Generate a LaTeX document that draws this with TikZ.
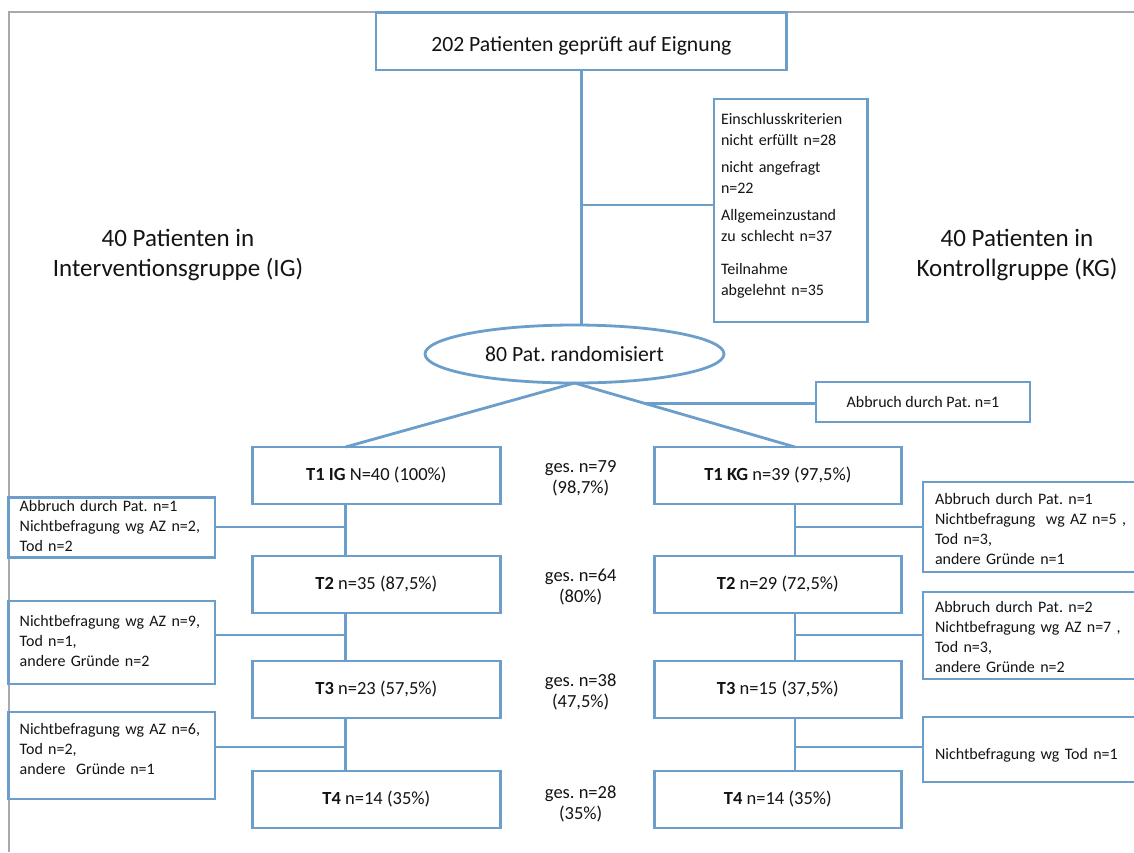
\documentclass[tikz,border=0pt]{standalone}
\usepackage{fontspec}
\setmainfont{Carlito}
\usetikzlibrary{shapes.geometric,calc}
\definecolor{boxblue}{RGB}{108,158,204}
\definecolor{framegray}{RGB}{168,168,176}
\definecolor{ink}{RGB}{20,20,20}
\newcommand\txtup[2]{\raisebox{#1}[\height][\depth]{#2}}
\frenchspacing
\tikzset{
  conn/.style={draw=boxblue, line width=2.8pt},
  bluebox/.style={draw=boxblue, line width=2.8pt, rectangle, inner sep=0pt, outer sep=0pt, text=ink},
  tbox/.style={bluebox, minimum width=247.5pt, minimum height=57pt, font=\fontsize{18.5}{22}\selectfont},
  sidebox/.style={bluebox, inner xsep=11pt, text width=184.3pt, align=left, font=\fontsize{16}{20}\selectfont},
  rightbox/.style={bluebox, inner xsep=12pt, text width=213pt, align=left, font=\fontsize{16}{20}\selectfont},
  gestext/.style={align=center, inner sep=0pt, text=ink, font=\fontsize{18.5}{21}\selectfont},
  grouplabel/.style={align=center, inner sep=0pt, text=ink, font=\fontsize{25}{30}\selectfont},
}
\begin{document}
\begin{tikzpicture}[x=1pt,y=-1pt]
\useasboundingbox (0,0) rectangle (1134,852);
\clip (0,0) rectangle (1134,852);
\fill[white] (0,0) rectangle (1134,852);
\draw[framegray, line width=2pt] (8.7,852) -- (8.7,11.7) -- (1134,11.7);

% columns and branch rows
\coordinate (igcol) at (345.5,0);
\coordinate (kgcol) at (795,0);
\coordinate (brA) at (0,527);
\coordinate (brB) at (0,635);
\coordinate (brC) at (0,747);
\coordinate (brX) at (0,205);

% top
\node[bluebox, minimum width=410.7pt, minimum height=57.3pt, font=\fontsize{21.7}{26}\selectfont]
  (top) at (581.35,41.35) {\txtup{-5pt}{202 Patienten geprüft auf Eignung}};

\node[bluebox, inner xsep=7pt, text width=139.6pt, minimum height=223pt, align=left, font=\fontsize{16}{21.5}\selectfont]
  (excl) at (790.8,210.5) {\txtup{5pt}{\begin{tabular}{@{}l@{}}Einschlusskriterien\\ nicht erfüllt n=28\\[5pt] nicht angefragt\\ n=22\\[5pt] Allgemeinzustand\\ zu schlecht n=37\\[11pt] Teilnahme\\ abgelehnt n=35\end{tabular}}};

\node[grouplabel] (iglab) at (178,255) {40 Patienten in\\Interventionsgruppe (IG)};
\node[grouplabel] (kglab) at (1017,255) {40 Patienten in\\Kontrollgruppe (KG)};

\node[ellipse, draw=boxblue, line width=2.8pt, inner sep=0pt, outer sep=0pt, minimum width=299pt, minimum height=58pt, text=ink, font=\fontsize{21.7}{26}\selectfont]
  (rand) at (574.5,354) {80 Pat. randomisiert};

\node[bluebox, minimum width=214pt, minimum height=40pt, font=\fontsize{16}{20}\selectfont]
  (abb) at (923,402) {Abbruch durch Pat. n=1};

% T boxes
\node[tbox] (t1ig) at (376.35,475.5) {\textbf{T1 IG} N=40 (100\%)};
\node[tbox] (t2ig) at (376.35,584.5) {\textbf{T2} n=35 (87,5\%)};
\node[tbox] (t3ig) at (376.35,689.5) {\textbf{T3} n=23 (57,5\%)};
\node[tbox] (t4ig) at (376.35,799.5) {\textbf{T4} n=14 (35\%)};
\node[tbox] (t1kg) at (777.85,475.5) {\textbf{T1 KG} n=39 (97,5\%)};
\node[tbox] (t2kg) at (777.85,584.5) {\textbf{T2} n=29 (72,5\%)};
\node[tbox] (t3kg) at (777.85,689.5) {\textbf{T3} n=15 (37,5\%)};
\node[tbox] (t4kg) at (777.85,799.5) {\textbf{T4} n=14 (35\%)};

\node[gestext] (g1) at (580.7,478.3) {ges. n=79\\(98,7\%)};
\node[gestext] (g2) at (580.7,587) {ges. n=64\\(80\%)};
\node[gestext] (g3) at (580.7,691.5) {ges. n=38\\(47,5\%)};
\node[gestext] (g4) at (580.7,804) {ges. n=28\\(35\%)};

% left boxes
\node[sidebox, minimum height=57pt] (lb1) at (111.85,527.5)
  {\begin{tabular}{@{}l@{}}Abbruch durch Pat. n=1\\ Nichtbefragung wg AZ n=2,\\ Tod n=2\end{tabular}};
\node[sidebox, minimum height=83pt] (lb2) at (111.85,642.5)
  {\begin{tabular}{@{}l@{}}Nichtbefragung wg AZ n=9,\\ Tod n=1,\\ andere Gründe n=2\end{tabular}};
\node[sidebox, minimum height=87pt] (lb3) at (111.85,755.5)
  {\txtup{5pt}{\begin{tabular}{@{}l@{}}Nichtbefragung wg AZ n=6,\\ Tod n=2,\\ andere\ \ Gründe n=1\end{tabular}}};

% right boxes
\node[rightbox, minimum height=90pt] (rb1) at (1041.5,527)
  {\txtup{-3pt}{\begin{tabular}{@{}l@{}}Abbruch durch Pat. n=1\\ Nichtbefragung\ \ wg AZ n=5 ,\\ Tod n=3,\\ andere Gründe n=1\end{tabular}}};
\node[rightbox, minimum height=87pt] (rb2) at (1041.5,635.5)
  {\txtup{-3pt}{\begin{tabular}{@{}l@{}}Abbruch durch Pat. n=2\\ Nichtbefragung wg AZ n=7 ,\\ Tod n=3,\\ andere Gründe n=2\end{tabular}}};
\node[rightbox, minimum height=65pt] (rb3) at (1041.5,749.5)
  {\txtup{-6pt}{Nichtbefragung wg Tod n=1}};

% connectors
\draw[conn] (top.south) -- (top.south |- rand.north);
\draw[conn] (top.south |- brX) -- (excl.west |- brX);
\coordinate (igtop) at (igcol |- t1ig.north);
\coordinate (kgtop) at (kgcol |- t1kg.north);
\draw[conn] (rand.south) -- (igtop);
\draw[conn] (rand.south) -- (kgtop);
\coordinate (abbsplit) at ($(rand.south)!0.32!(kgtop)$);
\draw[conn] (abbsplit) -- (abbsplit -| abb.west);

\draw[conn] (igcol |- t1ig.south) -- (igcol |- t2ig.north);
\draw[conn] (igcol |- t2ig.south) -- (igcol |- t3ig.north);
\draw[conn] (igcol |- t3ig.south) -- (igcol |- t4ig.north);
\draw[conn] (lb1.east |- brA) -- (igcol |- brA);
\draw[conn] (lb2.east |- brB) -- (igcol |- brB);
\draw[conn] (lb3.east |- brC) -- (igcol |- brC);

\draw[conn] (kgcol |- t1kg.south) -- (kgcol |- t2kg.north);
\draw[conn] (kgcol |- t2kg.south) -- (kgcol |- t3kg.north);
\draw[conn] (kgcol |- t3kg.south) -- (kgcol |- t4kg.north);
\draw[conn] (kgcol |- brA) -- (rb1.west |- brA);
\draw[conn] (kgcol |- brB) -- (rb2.west |- brB);
\draw[conn] (kgcol |- brC) -- (rb3.west |- brC);
\end{tikzpicture}
\end{document}
